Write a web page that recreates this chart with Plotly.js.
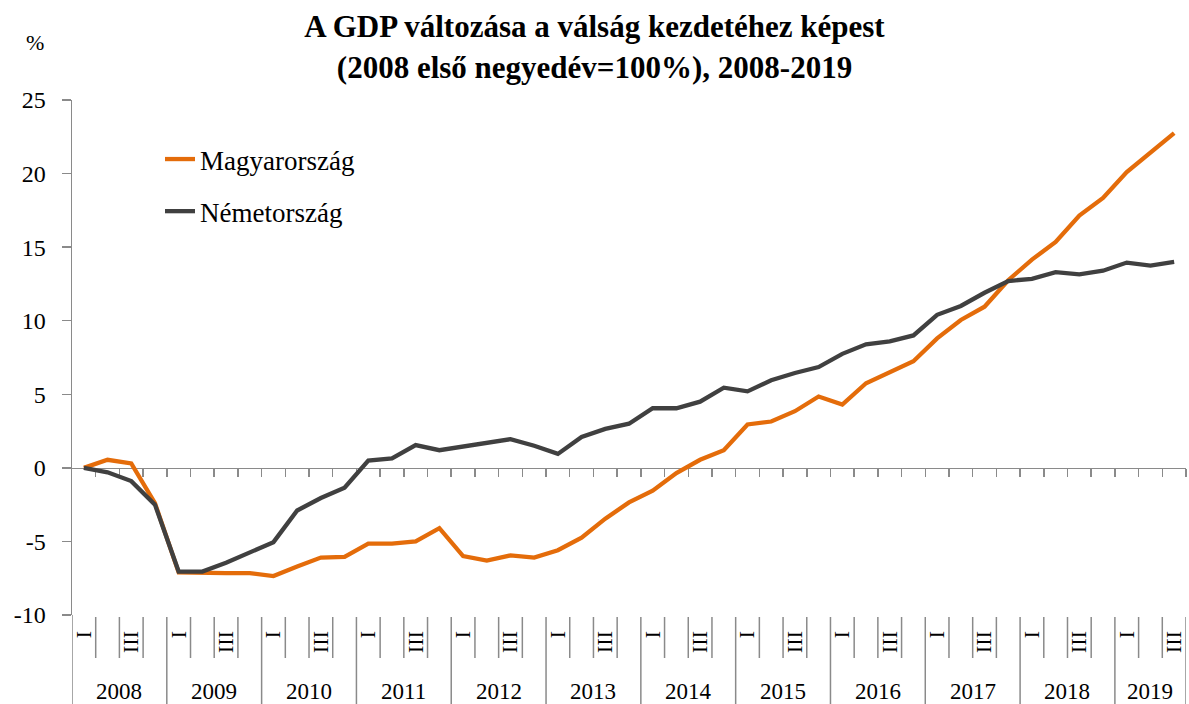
<!DOCTYPE html>
<html><head><meta charset="utf-8">
<script src="https://cdn.plot.ly/plotly-3.0.1.min.js"></script>
<style>html,body{margin:0;padding:0;background:#fff}#chart{width:1189px;height:704px}</style>
</head><body><div id="chart"></div>
<script>
const years = [2008, 2009, 2010, 2011, 2012, 2013, 2014, 2015, 2016, 2017, 2018, 2019];
const quarterNames = ['I', '', 'III', ''];
const quartersInLastYear = 3;
const yTicks = [-10, -5, 0, 5, 10, 15, 20, 25];
const seriesNames = ['Magyarország', 'Németország'];

const hungary = [0, 0.55, 0.3, -2.4, -7.1, -7.15, -7.15, -7.15, -7.35, -6.7, -6.1, -6.05,
  -5.15, -5.15, -5.0, -4.1, -6.0, -6.3, -5.95, -6.1, -5.6, -4.75, -3.45, -2.35,
  -1.55, -0.35, 0.55, 1.2, 2.95, 3.15, 3.85, 4.85, 4.3, 5.75, 6.5, 7.25,
  8.8, 10.05, 10.95, 12.75, 14.15, 15.35, 17.15, 18.35, 20.1, 21.4, 22.75];
const germany = [0, -0.3, -0.9, -2.5, -7.05, -7.05, -6.45, -5.75, -5.05, -2.9, -2.05, -1.35,
  0.5, 0.65, 1.55, 1.2, 1.45, 1.7, 1.95, 1.5, 0.95, 2.1, 2.65, 3.0,
  4.05, 4.05, 4.5, 5.45, 5.2, 5.95, 6.45, 6.85, 7.75, 8.4, 8.6, 9.0,
  10.4, 11.0, 11.9, 12.7, 12.85, 13.3, 13.15, 13.4, 13.95, 13.75, 14.0];

// build category structure
const catLabels = [];
const yearStart = [];
const yearCenter = [];
years.forEach((yr, yi) => {
  const nq = yi === years.length - 1 ? quartersInLastYear : 4;
  yearStart.push(catLabels.length);
  yearCenter.push(catLabels.length + (nq - 1) / 2);
  for (let q = 0; q < nq; q++) catLabels.push(quarterNames[q]);
});
const n = catLabels.length;
const xIdx = catLabels.map((_, i) => i);
const boundaries = [];
for (let b = 0; b <= n; b++) boundaries.push(b - 0.5);

const FONT = '"Liberation Serif", "Times New Roman", serif';
const AX = '#8a8a8a';
const W = 1189, H = 704, MB = 89, MT = 100, ML = 72, MR = 3;
const plotH = H - MB - MT, plotW = W - ML - MR;
const py = (px) => (H - MB - px) / plotH; // pixel row -> paper y
const pxX = (px) => (px - ML) / plotW;    // pixel col -> paper x

const shapes = [];
boundaries.forEach((bx, b) => {
  const isYear = yearStart.includes(b) || b === n;
  shapes.push({
    type: 'line', xref: 'x', yref: 'paper', x0: bx, x1: bx,
    y0: b === 0 ? 0 : py(617), y1: isYear ? py(H) : py(658),
    line: {color: AX, width: 1.5}
  });
});

const annotations = years.map((yr, yi) => ({
  x: yearCenter[yi], xref: 'x', y: py(691), yref: 'paper',
  text: String(yr), showarrow: false, xanchor: 'center', yanchor: 'middle',
  font: {family: FONT, size: 23, color: '#000'}
}));
annotations.push({
  x: pxX(35), xref: 'paper', y: py(42), yref: 'paper', text: '%', showarrow: false,
  xanchor: 'center', yanchor: 'middle', font: {family: FONT, size: 22, color: '#000'}
});

const traces = [
  {x: xIdx, y: hungary, name: seriesNames[0], type: 'scatter', mode: 'lines',
   line: {color: '#E46C0A', width: 4.3}, legendgroup: 'a'},
  {x: xIdx, y: germany, name: seriesNames[1], type: 'scatter', mode: 'lines',
   line: {color: '#404040', width: 4.3}, legendgroup: 'b'},
  {x: [], y: [], xaxis: 'x2', showlegend: false, hoverinfo: 'skip'}
];

const layout = {
  width: W, height: H,
  margin: {l: ML, r: MR, t: MT, b: MB},
  paper_bgcolor: '#fff', plot_bgcolor: '#fff',
  font: {family: FONT, color: '#000'},
  title: {
    text: '<b>A GDP változása a válság kezdetéhez képest<br>(2008 első negyedév=100%), 2008-2019</b>',
    font: {family: FONT, size: 31, color: '#000'},
    x: 0.5, xref: 'container', xanchor: 'center', y: 0.947, yref: 'container', yanchor: 'top'
  },
  xaxis: {
    range: [-0.5, n - 0.5], tickvals: xIdx, ticktext: catLabels, tickangle: 90,
    ticks: '', showline: false, showgrid: false, zeroline: false,
    tickfont: {family: FONT, size: 22, color: '#000'}, ticklabelstandoff: 15
  },
  xaxis2: {
    overlaying: 'x', anchor: 'free', position: (0 - yTicks[0]) / (yTicks[yTicks.length - 1] - yTicks[0]),
    range: [-0.5, n - 0.5], tickvals: boundaries.slice(1), ticks: 'outside', ticklen: 8,
    tickwidth: 1.5, tickcolor: AX, showline: true, linecolor: AX, linewidth: 1.5,
    showticklabels: false, showgrid: false, zeroline: false, layer: 'below traces'
  },
  yaxis: {
    range: [yTicks[0], yTicks[yTicks.length - 1]], tickvals: yTicks,
    ticktext: yTicks.map(v => String(v)),
    ticks: 'outside', ticklen: 9, tickwidth: 1.5, tickcolor: AX,
    showline: true, linecolor: AX, linewidth: 1.5, showgrid: false, zeroline: false,
    tickfont: {family: FONT, size: 24, color: '#000'}, ticklabelstandoff: 11
  },
  legend: {
    x: pxX(160), xanchor: 'left', y: py(135), yanchor: 'top',
    bgcolor: 'rgba(0,0,0,0)', font: {family: FONT, size: 27, color: '#000'},
    tracegroupgap: 14, traceorder: 'grouped'
  },
  showlegend: true,
  shapes: shapes,
  annotations: annotations
};

Plotly.newPlot('chart', traces, layout, {staticPlot: true, displayModeBar: false});
</script></body></html>
